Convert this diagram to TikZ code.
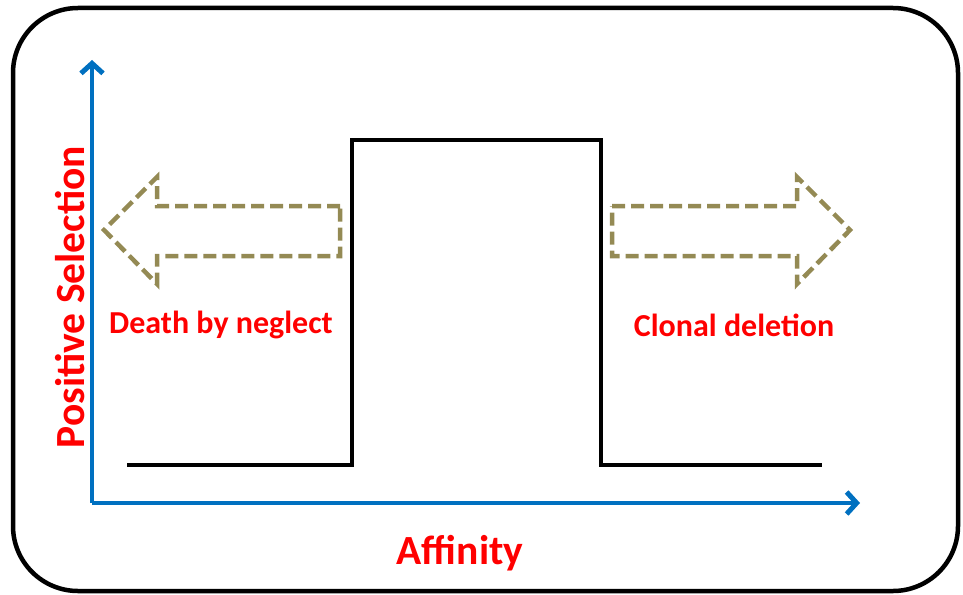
\documentclass[tikz,border=0pt]{standalone}
\usepackage{fontspec}
\setmainfont{Carlito}
\usetikzlibrary{arrows.meta}
\definecolor{axisblue}{HTML}{0070C0}
\definecolor{olive}{HTML}{948A54}
\definecolor{lblred}{HTML}{FF0000}
\begin{document}
\begin{tikzpicture}[x=1pt,y=-1pt,
  axis/.style={draw=axisblue,line width=4pt,-{Straight Barb[length=10pt,width=22pt,line width=5pt]}},
  curve/.style={draw=black,line width=4pt},
  fatarrow/.style={draw=olive,line width=4.5pt,dash pattern=on 13pt off 6pt,line join=miter},
  lbl/.style={text=lblred,font=\bfseries\fontsize{32}{34}\selectfont,inner sep=0pt},
  biglbl/.style={lbl,font=\bfseries\fontsize{41.5}{44}\selectfont}]
  \useasboundingbox (0,0) rectangle (963,594);
  % frame
  \draw[line width=4.5pt,rounded corners=65pt] (13,8) rectangle (958,591);
  % axes
  \coordinate (o) at (92,503);
  \coordinate (ytip) at (92,60);
  \coordinate (xtip) at (860,503);
  \draw[axis] (o) -- (ytip);
  \draw[axis] (o) -- (xtip);
  % step response
  \coordinate (s0) at (127,465);
  \coordinate (s1) at (352,465);
  \coordinate (s2) at (352,140);
  \coordinate (s3) at (601,140);
  \coordinate (s4) at (601,465);
  \coordinate (s5) at (822,465);
  \draw[curve] (s0) -- (s1) -- (s2) -- (s3) -- (s4) -- (s5);
  % dashed block arrows
  \draw[fatarrow] (340,206) -- (157,206) -- (157,177) -- (104,230) -- (157,284) -- (157,256) -- (340,256) -- cycle;
  \draw[fatarrow] (612,206) -- (797,206) -- (797,177) -- (850,230) -- (797,284) -- (797,256) -- (612,256) -- cycle;
  % labels
  \node[lbl] (neglect) at (221,325) {Death by neglect};
  \node[lbl] (deletion) at (734,325) {Clonal deletion};
  \node[biglbl] (aff) at (460,553) {Affinity};
  \node[biglbl,rotate=90] (possel) at (70,297) {Positive Selection};
\end{tikzpicture}
\end{document}
